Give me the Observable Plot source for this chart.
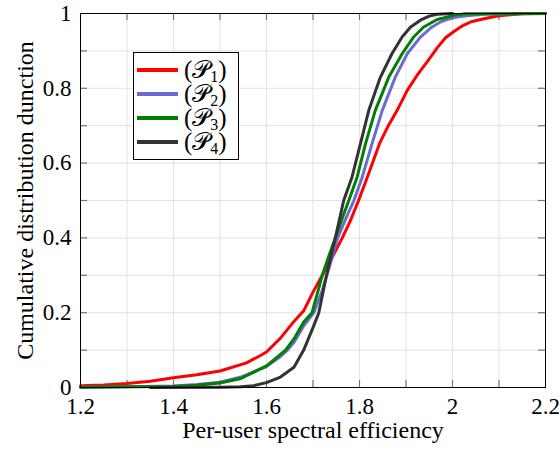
<!DOCTYPE html>
<html><head><meta charset="utf-8">
<script src="https://cdn.jsdelivr.net/npm/d3@7"></script>
<script src="https://cdn.jsdelivr.net/npm/@observablehq/plot@0.6"></script>
<style>
body{margin:0;background:#fff}
#wrap{position:relative;width:560px;height:453px;font-family:"Liberation Serif";}
#wrap svg, #wrap svg text{font-family:"Liberation Serif" !important;}
.leg{position:absolute;background:#fff;border:1px solid #000;box-sizing:border-box}
.row{position:absolute;left:0;height:24px}
.sw{position:absolute;top:-2px;width:41px;height:4px}
.lab{position:absolute;left:50px;top:-12px;height:24px;font-family:"Liberation Serif";font-size:25px;line-height:24px;white-space:nowrap;color:#000}
.lab sub{font-size:16px;vertical-align:-4px;line-height:0}
</style>
</head><body><div id="wrap"></div>
<script>
// ----- data -----
const seriesNames = ["P1", "P2", "P3", "P4"];
const seriesLabels = ["1", "2", "3", "4"];
const seriesColors = ["#ff0000", "#6b6bd1", "#008000", "#333333"];

const p1x = [1.20,1.25,1.30,1.35,1.40,1.45,1.50,1.557,1.586,1.60,1.63,1.66,1.68,1.70,1.72,1.74,1.763,1.78,1.798,1.817,1.843,1.862,1.881,1.903,1.924,1.945,1.967,1.985,2.003,2.02,2.04,2.075,2.10,2.15,2.20];
const p1y = [0.005,0.007,0.011,0.017,0.026,0.034,0.044,0.066,0.085,0.095,0.132,0.178,0.205,0.255,0.30,0.345,0.40,0.445,0.50,0.563,0.652,0.700,0.741,0.795,0.835,0.870,0.908,0.935,0.952,0.966,0.978,0.988,0.994,0.999,1.0];

const p2x = [1.20,1.30,1.40,1.45,1.50,1.545,1.60,1.63,1.645,1.66,1.68,1.702,1.72,1.738,1.753,1.77,1.788,1.806,1.827,1.849,1.877,1.903,1.931,1.956,1.975,1.988,2.003,2.03,2.067,2.15];
const p2y = [0.001,0.002,0.004,0.008,0.014,0.028,0.056,0.083,0.10,0.122,0.165,0.20,0.26,0.334,0.40,0.45,0.50,0.563,0.652,0.741,0.830,0.893,0.937,0.964,0.978,0.984,0.989,0.994,0.998,1.0];

const p3x = [1.20,1.30,1.40,1.45,1.50,1.545,1.60,1.625,1.641,1.66,1.68,1.698,1.72,1.735,1.748,1.762,1.777,1.795,1.813,1.834,1.863,1.892,1.917,1.938,1.967,2.003,2.024,2.20];
const p3y = [0.001,0.002,0.003,0.006,0.012,0.024,0.058,0.083,0.10,0.132,0.175,0.20,0.30,0.355,0.40,0.45,0.50,0.563,0.652,0.741,0.830,0.893,0.938,0.964,0.984,0.995,0.999,1.0];

const p4x = [1.35,1.50,1.544,1.573,1.60,1.63,1.659,1.68,1.70,1.7125,1.729,1.748,1.766,1.784,1.802,1.82,1.845,1.87,1.892,1.91,1.931,1.95,1.967,2.00];
const p4y = [0.0,0.001,0.002,0.005,0.013,0.028,0.054,0.10,0.16,0.20,0.30,0.40,0.50,0.563,0.652,0.741,0.830,0.893,0.938,0.964,0.982,0.993,0.998,1.0];

const xTickValues = [1.2,1.4,1.6,1.8,2.0,2.2];
const xTickLabels = ["1.2","1.4","1.6","1.8","2","2.2"];
const yTickValues = [0,0.2,0.4,0.6,0.8,1];
const yTickLabels = ["0","0.2","0.4","0.6","0.8","1"];
const xGridValues = [1.3,1.4,1.5,1.6,1.7,1.8,1.9,2.0,2.1];
const yGridValues = [0.1,0.2,0.3,0.4,0.5,0.6,0.7,0.8,0.9];
const xLabel = "Per-user spectral efficiency";
const yLabel = "Cumulative distribution dunction";

// ----- build table -----
const xs = [p1x,p2x,p3x,p4x], ys = [p1y,p2y,p3y,p4y];
const rows = [];
seriesNames.forEach((s,i)=>xs[i].forEach((x,j)=>rows.push({series:s,x,y:ys[i][j]})));

const W=560,H=453,mL=80,mR=15,mT=13,mB=66;
const pw=W-mL-mR, ph=H-mT-mB, tk=7;
const ff="Liberation Serif";

const chart = Plot.plot({
  width:W,height:H,marginLeft:mL,marginRight:mR,marginTop:mT,marginBottom:mB,
  style:{background:"#fff",color:"#000"},
  x:{domain:[1.2,2.2]},
  y:{domain:[0,1]},
  color:{domain:seriesNames,range:seriesColors},
  marks:[
    Plot.gridX(xGridValues,{stroke:"#e3e3e3",strokeOpacity:1,strokeWidth:1}),
    Plot.gridY(yGridValues,{stroke:"#e3e3e3",strokeOpacity:1,strokeWidth:1}),
    Plot.tickX(xGridValues,{x:d=>d,insetTop:ph-tk,stroke:"#777",strokeWidth:1.2}),
    Plot.tickX(xGridValues,{x:d=>d,insetBottom:ph-tk,stroke:"#777",strokeWidth:1.2}),
    Plot.tickY(yGridValues,{y:d=>d,insetRight:pw-tk,stroke:"#777",strokeWidth:1.2}),
    Plot.tickY(yGridValues,{y:d=>d,insetLeft:pw-tk,stroke:"#777",strokeWidth:1.2}),
    Plot.axisX({ticks:xTickValues,tickFormat:(d,i)=>xTickLabels[i],tickSize:0,tickPadding:10,label:null,fontSize:23,fontFamily:ff}),
    Plot.axisY({ticks:yTickValues,tickFormat:(d,i)=>yTickLabels[i],tickSize:0,tickPadding:9,label:null,fontSize:23,fontFamily:ff}),
    Plot.line(rows,{x:"x",y:"y",z:"series",stroke:"series",strokeWidth:3,strokeLinejoin:"round",strokeLinecap:"round"}),
    Plot.frame({stroke:"#000",strokeWidth:1}),
    Plot.text([xLabel],{text:d=>d,frameAnchor:"bottom",textAnchor:"middle",dy:50,fontSize:24,fontFamily:ff}),
    Plot.text([yLabel],{text:d=>d,frameAnchor:"left",textAnchor:"middle",dx:-55,rotate:-90,fontSize:24,fontFamily:ff})
  ]
});
const wrap=document.getElementById("wrap");
wrap.appendChild(chart);

// ----- legend -----
const leg=d3.select(wrap).append("div").attr("class","leg")
  .style("left","133px").style("top","52px").style("width","106px").style("height","108px");
seriesNames.forEach((s,i)=>{
  const r=leg.append("div").attr("class","row").style("top",(17+i*24)+"px");
  r.append("div").attr("class","sw").style("left","3px").style("background",seriesColors[i]);
  r.append("div").attr("class","lab").html("(𝒫<sub>"+seriesLabels[i]+"</sub>)");
});
</script></body></html>
